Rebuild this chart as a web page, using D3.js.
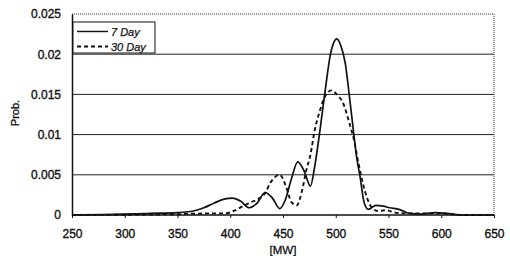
<!DOCTYPE html>
<html><head><meta charset="utf-8">
<script src="https://cdn.jsdelivr.net/npm/d3@7"></script>
<style>body{margin:0;background:#fff}svg{display:block}text{font-family:"Liberation Sans",Arial,sans-serif;fill:#111}</style>
</head><body><svg id="c" width="510" height="256"></svg>
<script>
const xTicks=[250,300,350,400,450,500,550,600,650];
const yTicks=[0,0.005,0.01,0.015,0.02,0.025];
const yTickLabels=["0","0.005","0.01","0.015","0.02","0.025"];
const seriesNames=["7 Day","30 Day"];
const mw7=[250,300,325,350,365,375,385,395,402,410,418,425,433,440,447,452,458,464,470,476,480,485,490,495,501,505,509,513,517,520,523,527,531,538,545,551,560,570,580,595,605,620,650];
const p7=[0,0.0001,0.0002,0.0003,0.0005,0.0009,0.0015,0.002,0.0021,0.0017,0.0009,0.0014,0.0028,0.0021,0.0008,0.0018,0.0045,0.0066,0.0055,0.0036,0.006,0.0105,0.0155,0.02,0.0219,0.021,0.0189,0.0147,0.0102,0.007,0.0048,0.0015,0.0007,0.0012,0.0011,0.0009,0.0007,0.0002,0.0001,0.0003,0.0002,0,0];
const mw30=[250,350,380,395,405,412,420,428,433,438,447,453,458,463,468,472,476,480,485,490,496,501,507,513,517,521,526,530,535,540,548,556,570,600,620,650];
const p30=[0,0.0001,0.0002,0.0002,0.0006,0.0011,0.0016,0.0021,0.0027,0.0040,0.005,0.0035,0.0016,0.0012,0.003,0.0055,0.0075,0.0105,0.013,0.0148,0.0155,0.015,0.0139,0.0114,0.0095,0.0068,0.0038,0.002,0.0008,0.0005,0.0006,0.0003,0.0002,0.0002,0,0];

const svg=d3.select("#c");
const L=72,R=494,T=14,B=215;
const x=d3.scaleLinear().domain([250,650]).range([L,R]);
const y=d3.scaleLinear().domain([0,0.025]).range([B,T]);

svg.append("g").selectAll("line").data(yTicks.filter(d=>d>0&&d<0.025)).join("line")
 .attr("x1",L).attr("x2",R).attr("y1",d=>y(d)).attr("y2",d=>y(d))
 .attr("stroke","#222").attr("stroke-width",1);
svg.append("line").attr("x1",L).attr("x2",R).attr("y1",T).attr("y2",T).attr("stroke","#333").attr("stroke-width",1).attr("stroke-dasharray","1,1");
svg.append("line").attr("x1",R).attr("x2",R).attr("y1",T).attr("y2",B).attr("stroke","#333").attr("stroke-width",1).attr("stroke-dasharray","1,1");

const xa=svg.append("g").attr("transform",`translate(0,${B})`)
 .call(d3.axisBottom(x).tickValues(xTicks).tickSize(3).tickPadding(11).tickFormat(d3.format("d")));
const ya=svg.append("g").attr("transform",`translate(${L},0)`)
 .call(d3.axisLeft(y).tickValues(yTicks).tickSize(0).tickPadding(11).tickFormat((d,i)=>yTickLabels[i]));
[xa,ya].forEach(a=>{a.select(".domain").attr("stroke","#111").attr("stroke-width",1.5);
 a.selectAll(".tick line").attr("stroke","#111");
 a.selectAll("text").attr("font-size",12).attr("font-family","Liberation Sans, Arial, sans-serif").attr("fill","#111").attr("stroke","#111").attr("stroke-width",0.35);});
xa.select(".domain").attr("d",`M${L},0H${R}`);

svg.append("text").attr("x",(L+R)/2).attr("y",254).attr("text-anchor","middle").attr("font-size",11.5).attr("stroke","#111").attr("stroke-width",0.3).text("[MW]");
svg.append("text").attr("transform","translate(19,113) rotate(-90)").attr("text-anchor","middle").attr("font-size",11).attr("stroke","#111").attr("stroke-width",0.3).text("Prob.");

const line=d3.line().x(d=>x(d[0])).y(d=>y(d[1])).curve(d3.curveMonotoneX);
svg.append("path").datum(d3.zip(mw30,p30)).attr("d",line).attr("fill","none").attr("stroke","#111").attr("stroke-width",1.9).attr("stroke-dasharray","4,3");
svg.append("path").datum(d3.zip(mw7,p7)).attr("d",line).attr("fill","none").attr("stroke","#111").attr("stroke-width",1.7);

const lg=svg.append("g");
lg.append("rect").attr("x",73).attr("y",22).attr("width",82).attr("height",31).attr("fill","#fff").attr("stroke","#111").attr("stroke-width",1);
seriesNames.forEach((n,i)=>{
 const yy=31.5+i*15;
 lg.append("line").attr("x1",77).attr("x2",108).attr("y1",yy).attr("y2",yy).attr("stroke","#111")
  .attr("stroke-width",i?1.9:1.4).attr("stroke-dasharray",i?"4,3":null);
 lg.append("text").attr("x",111).attr("y",yy+4).attr("font-size",11).attr("font-style","italic").attr("stroke","#111").attr("stroke-width",0.25).text(n);
});
</script></body></html>
